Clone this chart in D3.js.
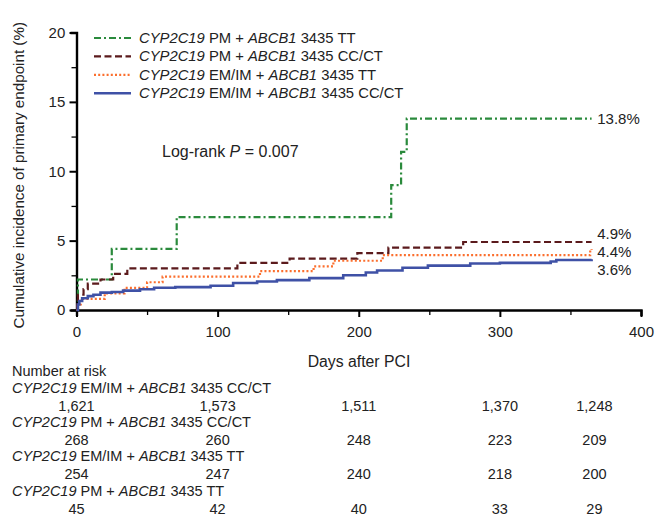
<!DOCTYPE html>
<html>
<head>
<meta charset="utf-8">
<script src="https://cdn.jsdelivr.net/npm/d3@7"></script>
<style>
  body { margin: 0; background: #fff; }
  svg text { font-family: "Liberation Sans", Arial, sans-serif; fill: #222; }
</style>
</head>
<body>
<script>
// step curves: [day, cumulative %]
const pmTT = [[0,0],[1,2.2],[25,4.4],[71,6.7],[223,9.0],[230,11.4],[234,13.8],[365,13.8]];
const pmCC = [[0,0],[0.5,0.4],[1,1.1],[5,1.5],[8,1.9],[17,2.2],[26,2.6],[36,3.0],[114,3.4],[151,3.7],[199,4.1],[221,4.5],[274,4.9],[365,4.9]];
const emTT = [[0,0],[1,0.4],[3,0.8],[20,1.2],[34,1.6],[50,2.0],[61,2.4],[130,2.8],[168,3.15],[182,3.55],[217,3.95],[364,4.3],[365,4.4]];
const emCC = [[0,0],[1,0.4],[2,0.65],[4,0.85],[8,1.0],[12,1.1],[17,1.25],[25,1.3],[33,1.4],[45,1.5],[55,1.6],[70,1.65],[95,1.75],[111,1.95],[128,2.05],[142,2.15],[165,2.3],[189,2.5],[205,2.7],[213,2.85],[231,3.05],[249,3.2],[279,3.35],[300,3.4],[336,3.5],[340,3.6],[365,3.65]];

const seriesNames = ["pmTT", "pmCC", "emTT", "emCC"];
const legendLabels = [
  ["CYP2C19", " PM + ", "ABCB1", " 3435 TT"],
  ["CYP2C19", " PM + ", "ABCB1", " 3435 CC/CT"],
  ["CYP2C19", " EM/IM + ", "ABCB1", " 3435 TT"],
  ["CYP2C19", " EM/IM + ", "ABCB1", " 3435 CC/CT"]
];
const endLabels = ["13.8%", "4.9%", "4.4%", "3.6%"];
const endLabelY = [13.8, 5.5, 4.2, 2.85];

const xTicks = [0, 100, 200, 300, 400];
const yTicks = [0, 5, 10, 15, 20];

// number at risk table (order as printed)
const riskDays = [0, 100, 200, 300, 367];
const riskRows = [
  { label: ["CYP2C19", " EM/IM + ", "ABCB1", " 3435 CC/CT"], n: ["1,621", "1,573", "1,511", "1,370", "1,248"] },
  { label: ["CYP2C19", " PM + ", "ABCB1", " 3435 CC/CT"], n: ["268", "260", "248", "223", "209"] },
  { label: ["CYP2C19", " EM/IM + ", "ABCB1", " 3435 TT"], n: ["254", "247", "240", "218", "200"] },
  { label: ["CYP2C19", " PM + ", "ABCB1", " 3435 TT"], n: ["45", "42", "40", "33", "29"] }
];

const styles = {
  pmTT: { color: "#2a8a3c", dash: "7,3,2,3", w: 2.2 },
  pmCC: { color: "#5b1a1c", dash: "7,3.5", w: 2.2 },
  emTT: { color: "#fb6f2e", dash: "2,2.2", w: 2.2 },
  emCC: { color: "#3f51a6", dash: null, w: 2.6 }
};
const data = { pmTT, pmCC, emTT, emCC };

const width = 655, height = 519;
const svg = d3.select("body").append("svg").attr("width", width).attr("height", height);

const x = d3.scaleLinear().domain([0, 400]).range([76.5, 641]);
const y = d3.scaleLinear().domain([0, 20]).range([310, 32.5]);

// axes
const xAxis = svg.append("g").attr("transform", `translate(0,${y(0)})`)
  .call(d3.axisBottom(x).tickValues(d3.range(0, 401, 50)).tickSize(6).tickFormat(d => xTicks.includes(d) ? d : ""));
xAxis.selectAll(".tick line").attr("y2", d => xTicks.includes(d) ? 7 : 5).attr("stroke-width", d => xTicks.includes(d) ? 2 : 1.3);
const yAxis = svg.append("g").attr("transform", `translate(${x(0)},0)`)
  .call(d3.axisLeft(y).tickValues(d3.range(0, 20.1, 2.5)).tickSize(6).tickFormat(d => yTicks.includes(d) ? d : ""));
yAxis.selectAll(".tick line").attr("x2", d => yTicks.includes(d) ? -7 : -5).attr("stroke-width", d => yTicks.includes(d) ? 2 : 1.3);
[xAxis, yAxis].forEach(a => {
  a.select(".domain").attr("stroke", "#000").attr("stroke-width", 2.4);
  a.selectAll("text").attr("font-size", 15).attr("fill", "#222").attr("font-family", "Liberation Sans, Arial, sans-serif");
});
xAxis.selectAll("text").attr("dy", "1.2em");
yAxis.selectAll("text").attr("dx", "-0.15em");

// curves
const line = d3.line().x(d => x(d[0])).y(d => y(d[1])).curve(d3.curveStepAfter);
seriesNames.forEach(k => {
  const s = styles[k];
  svg.append("path").datum(data[k]).attr("d", line)
    .attr("fill", "none").attr("stroke", s.color).attr("stroke-width", s.w)
    .attr("stroke-dasharray", s.dash);
});
seriesNames.forEach((k, i) => {
  svg.append("text").attr("x", x(369)).attr("y", y(endLabelY[i]) + 5)
    .attr("font-size", 15).text(endLabels[i]);
});

function richText(t, parts, size) {
  t.attr("font-size", size);
  parts.forEach((p, i) => t.append("tspan").text(p).attr("font-style", i % 2 === 0 ? "italic" : "normal"));
}

// legend
seriesNames.forEach((k, i) => {
  const s = styles[k];
  const ly = 38 + i * 18.4;
  svg.append("line").attr("x1", 94).attr("x2", 131).attr("y1", ly).attr("y2", ly)
    .attr("stroke", s.color).attr("stroke-width", s.w).attr("stroke-dasharray", s.dash);
  richText(svg.append("text").attr("x", 139).attr("y", ly + 5), legendLabels[i], 14.8);
});

// log-rank
const lr = svg.append("text").attr("x", 162).attr("y", 157).attr("font-size", 16);
lr.append("tspan").text("Log-rank ");
lr.append("tspan").text("P").attr("font-style", "italic");
lr.append("tspan").text(" = 0.007");

// axis titles
svg.append("text").attr("transform", `translate(24,${(y(0) + y(20)) / 2 + 4}) rotate(-90)`)
  .attr("text-anchor", "middle").attr("font-size", 15.2).text("Cumulative incidence of primary endpoint (%)");
svg.append("text").attr("x", 359).attr("y", 367).attr("text-anchor", "middle").attr("font-size", 15.8).text("Days after PCI");

// number at risk
svg.append("text").attr("x", 12).attr("y", 376).attr("font-size", 14.5).text("Number at risk");
riskRows.forEach((r, i) => {
  const ry = 393 + i * 34.2;
  richText(svg.append("text").attr("x", 12).attr("y", ry), r.label, 14.5);
  r.n.forEach((v, j) => {
    svg.append("text").attr("x", x(riskDays[j])).attr("y", ry + 18)
      .attr("text-anchor", "middle").attr("font-size", 14.5).text(v);
  });
});
</script>
</body>
</html>
